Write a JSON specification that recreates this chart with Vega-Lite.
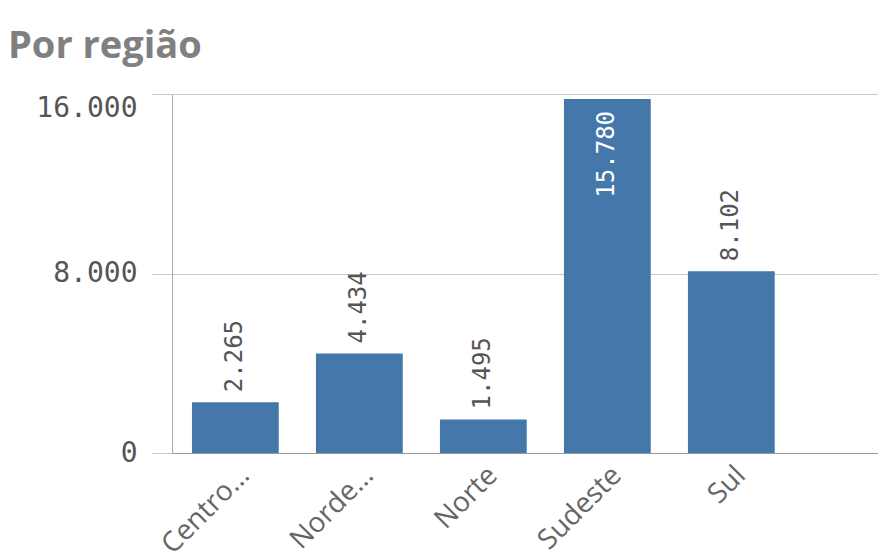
{
  "$schema": "https://vega.github.io/schema/vega-lite/v6.json",
  "autosize": {"type": "none"},
  "padding": {"left": 172, "top": 94, "right": 0, "bottom": 100},
  "width": 706,
  "height": 359,
  "background": "white",
  "title": {
    "text": "Por região",
    "anchor": "start",
    "frame": "group",
    "dx": -164,
    "offset": -2,
    "baseline": "alphabetic",
    "font": "Open Sans",
    "fontSize": 38,
    "fontWeight": "bold",
    "color": "#808080"
  },
  "config": {
    "locale": {
      "number": {"decimal": ",", "thousands": ".", "grouping": [3], "currency": ["R$", ""]}
    },
    "view": {"stroke": null}
  },
  "data": {
    "values": [
      {"regiao": "Centro-Oeste", "valor": 2265},
      {"regiao": "Nordeste", "valor": 4434},
      {"regiao": "Norte", "valor": 1495},
      {"regiao": "Sudeste", "valor": 15780},
      {"regiao": "Sul", "valor": 8102}
    ]
  },
  "encoding": {
    "x": {
      "field": "regiao",
      "type": "nominal",
      "sort": null,
      "scale": {"paddingInner": 0.3, "paddingOuter": 0.497, "align": 0.162},
      "axis": {
        "title": null,
        "labelAngle": -45,
        "labelFont": "Open Sans",
        "labelFontSize": 28,
        "labelColor": "#666666",
        "labelLimit": 114,
        "labelPadding": 8,
        "ticks": false,
        "domain": true,
        "domainColor": "#999999"
      }
    },
    "y": {
      "field": "valor",
      "type": "quantitative",
      "scale": {"domain": [0, 16000], "nice": false},
      "axis": {
        "title": null,
        "values": [0, 8000, 16000],
        "format": ",.0f",
        "grid": true,
        "gridColor": "#c8c8c8",
        "domainColor": "#aaaaaa",
        "tickSize": 20,
        "tickColor": "#c8c8c8",
        "labelPadding": 15,
        "labelFont": "DejaVu Sans Mono",
        "labelFontSize": 28,
        "labelColor": "#555555",
        "labelBaseline": {"condition": {"test": "datum.value == 16000", "value": "top"}, "value": "middle"}
      }
    }
  },
  "layer": [
    {"mark": {"type": "bar", "color": "#4477aa"}},
    {
      "transform": [{"filter": "datum.regiao != 'Sudeste'"}],
      "mark": {
        "type": "text",
        "angle": 270,
        "align": "left",
        "baseline": "middle",
        "dx": 10,
        "font": "DejaVu Sans Mono",
        "fontSize": 24,
        "color": "#555555"
      },
      "encoding": {"text": {"field": "valor", "type": "quantitative", "format": ",.0f"}}
    },
    {
      "transform": [{"filter": "datum.regiao == 'Sudeste'"}],
      "mark": {
        "type": "text",
        "angle": 270,
        "align": "right",
        "baseline": "middle",
        "dx": -12,
        "font": "DejaVu Sans Mono",
        "fontSize": 24,
        "color": "#ffffff"
      },
      "encoding": {"text": {"field": "valor", "type": "quantitative", "format": ",.0f"}}
    }
  ]
}
